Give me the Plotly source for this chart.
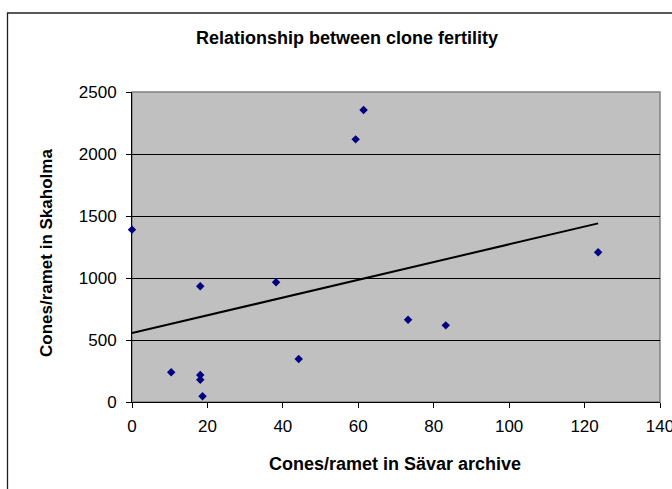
import numpy as np
import plotly.graph_objects as go

# Data
savar_cones = [0, 10.4, 18.1, 18.1, 18.1, 18.7, 38.2, 44.2, 59.3, 61.4, 73.2, 83.2, 123.6]
skaholma_cones = [1390, 240, 933, 218, 180, 46, 965, 347, 2118, 2355, 664, 618, 1207]
x_ticks = [0, 20, 40, 60, 80, 100, 120, 140]
y_ticks = [0, 500, 1000, 1500, 2000, 2500]

title_text = "Relationship between clone fertility"
x_title = "Cones/ramet in Sävar archive"
y_title = "Cones/ramet in Skaholma"

# linear trend line through the data (as Excel does)
slope, intercept = np.polyfit(savar_cones, skaholma_cones, 1)
tx = [min(savar_cones), max(savar_cones)]
ty = [intercept + slope * v for v in tx]

W, H = 672, 489
L, R, T, B = 132, 12, 92, 87
pw = W - L - R
ph = H - T - B

def px(x):
    return (x - L) / pw

def py(y):
    return (H - B - y) / ph

fig = go.Figure()
fig.add_trace(go.Scatter(
    x=tx, y=ty, mode="lines",
    line=dict(color="black", width=2), showlegend=False, hoverinfo="skip"))
fig.add_trace(go.Scatter(
    x=savar_cones, y=skaholma_cones, mode="markers",
    marker=dict(symbol="diamond", size=6.5, color="#000080",
                line=dict(width=0)),
    showlegend=False, cliponaxis=False))

font_family = "Liberation Sans, Arial, sans-serif"

fig.update_layout(
    width=W, height=H,
    margin=dict(l=L, r=R, t=T, b=B, pad=0),
    paper_bgcolor="white",
    plot_bgcolor="#C0C0C0",
    font=dict(family=font_family, color="black", size=17),
    xaxis=dict(range=[0, 140], tickvals=x_ticks, ticks="outside", ticklen=5,
               tickcolor="black", showline=True, linecolor="black", linewidth=1,
               showgrid=False, zeroline=False, automargin=False,
               ticklabelstandoff=4, ticklabeloverflow="allow",
               tickfont=dict(size=17)),
    yaxis=dict(range=[0, 2500], tickvals=y_ticks, ticks="outside", ticklen=5,
               tickcolor="black", showline=True, linecolor="black", linewidth=1,
               showgrid=True, gridcolor="black", gridwidth=1, zeroline=False,
               automargin=False, ticklabelstandoff=6, ticklabeloverflow="allow",
               tickfont=dict(size=17)),
    shapes=[
        # plot area border (gray)
        dict(type="rect", xref="paper", yref="paper", x0=0, y0=0, x1=1, y1=1,
             line=dict(color="#808080", width=1.5), layer="below"),
        # outer chart frame (cropped at right/bottom)
        dict(type="rect", xref="paper", yref="paper",
             x0=px(7.5), y0=py(560), x1=px(720), y1=py(13),
             line=dict(color="#202020", width=1.3)),
    ],
    annotations=[
        dict(text="<b>" + title_text + "</b>", xref="paper", yref="paper",
             x=px(347), y=py(38), showarrow=False, font=dict(size=18),
             xanchor="center", yanchor="middle"),
        dict(text="<b>" + x_title + "</b>", xref="paper", yref="paper",
             x=px(395), y=py(464), showarrow=False, font=dict(size=18),
             xanchor="center", yanchor="middle"),
        dict(text="<b>" + y_title + "</b>", xref="paper", yref="paper",
             x=px(47), y=py(253), showarrow=False, font=dict(size=17),
             textangle=-90, xanchor="center", yanchor="middle"),
    ],
)

fig.write_html("out.html", config={"displayModeBar": False},
               post_script="document.body.style.margin='0';")
